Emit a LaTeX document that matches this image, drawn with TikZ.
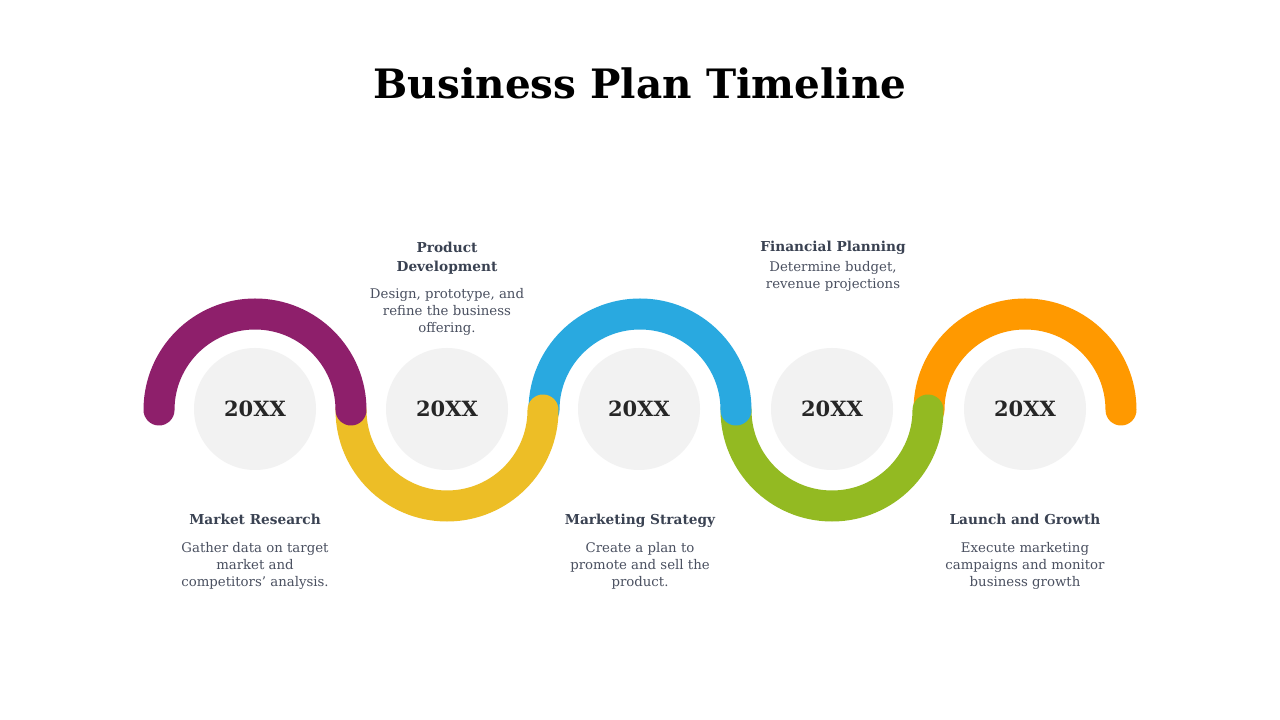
\documentclass[tikz,border=0pt]{standalone}
\usepackage{fontspec}
\setmainfont{DejaVu Serif}
\definecolor{cpurple}{HTML}{8E1F6B}
\definecolor{cyellow}{HTML}{EDBE26}
\definecolor{cblue}{HTML}{29A9E0}
\definecolor{cgreen}{HTML}{93BA22}
\definecolor{corange}{HTML}{FF9900}
\definecolor{cgray}{HTML}{F2F2F2}
\definecolor{ctitle}{HTML}{3A4252}
\definecolor{cdesc}{HTML}{4A5060}
\definecolor{cyear}{HTML}{262626}
\begin{document}
\begin{tikzpicture}[x=1pt,y=1pt,
  arcline/.style={line width=31pt,line cap=round},
  yearcircle/.style={circle,fill=cgray,minimum size=122pt,inner sep=0pt,
    font=\fontsize{21}{26}\selectfont\bfseries,text=cyear},
  headtext/.style={align=center,font=\fontsize{13.7}{19}\selectfont\bfseries,text=ctitle,inner sep=0pt},
  desctext/.style={align=center,font=\fontsize{13.3}{17}\selectfont,text=cdesc,inner sep=0pt}]
\useasboundingbox (0,0) rectangle (1280,720);
\fill[white] (0,0) rectangle (1280,720);
\node[font=\fontsize{40.5}{48}\selectfont\bfseries,text=black] (title) at (640,637) {Business Plan Timeline};
% circles
\node[yearcircle] (c1) at (255,311) {20XX};
\node[yearcircle] (c2) at (447,311) {20XX};
\node[yearcircle] (c3) at (639,311) {20XX};
\node[yearcircle] (c4) at (832,311) {20XX};
\node[yearcircle] (c5) at (1025,311) {20XX};
% arcs (drawn back to front)
\draw[arcline,corange] (929,310) arc[start angle=180,end angle=0,radius=96];
\draw[arcline,cgreen] (736,310) arc[start angle=180,end angle=360,radius=96];
\draw[arcline,cblue] (544,310) arc[start angle=180,end angle=0,radius=96];
\draw[arcline,cyellow] (351,310) arc[start angle=180,end angle=360,radius=96];
\draw[arcline,cpurple] (159,310) arc[start angle=180,end angle=0,radius=96];
% texts
\node[headtext,anchor=base] (h1) at (255,195) {Market Research};
\node[desctext,anchor=north] (d1) at (255,178) {Gather data on target\\market and\\competitors' analysis.};
\node[headtext,anchor=north] (h2) at (447,478) {Product\\Development};
\node[desctext,anchor=north] (d2) at (447,432) {Design, prototype, and\\refine the business\\offering.};
\node[headtext,anchor=base] (h3) at (640,195) {Marketing Strategy};
\node[desctext,anchor=north] (d3) at (640,178) {Create a plan to\\promote and sell the\\product.};
\node[headtext,anchor=base] (h4) at (833,468) {Financial Planning};
\node[desctext,anchor=north] (d4) at (833,459) {Determine budget,\\revenue projections};
\node[headtext,anchor=base] (h5) at (1025,195) {Launch and Growth};
\node[desctext,anchor=north] (d5) at (1025,178) {Execute marketing\\campaigns and monitor\\business growth};
\end{tikzpicture}
\end{document}
